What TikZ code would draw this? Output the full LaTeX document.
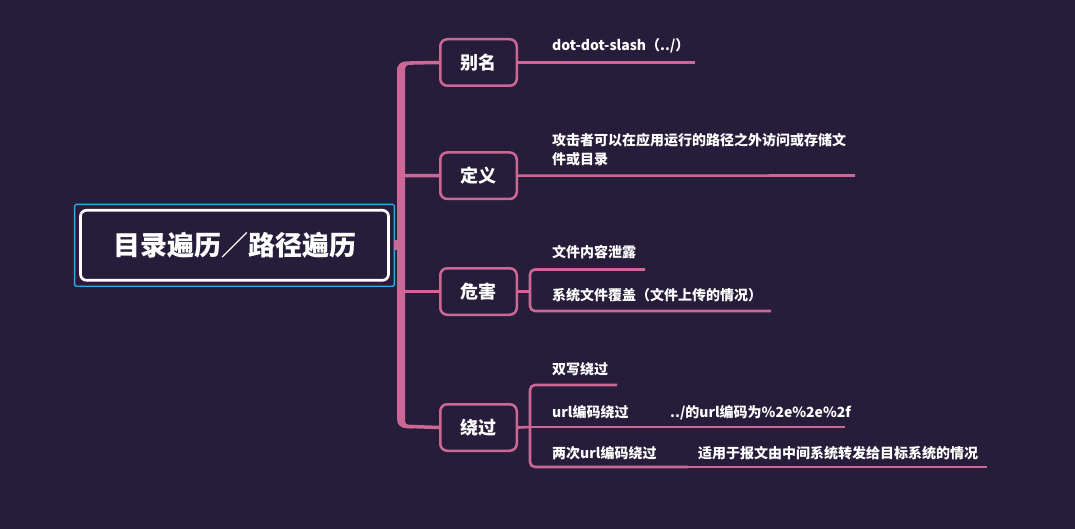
\documentclass[tikz,border=0pt]{standalone}
\usepackage{fontspec}
\setmainfont{Noto Sans CJK SC}
\definecolor{bg}{RGB}{38,29,58}
\definecolor{pk}{RGB}{205,104,150}
\definecolor{bl}{RGB}{47,169,234}
\tikzset{
  rootbox/.style={draw=white, line width=2.7pt, rounded corners=6pt, fill=bg, minimum width=308pt, minimum height=70pt, inner sep=0pt, text=white, font=\fontsize{27}{30}\selectfont\bfseries},
  topic/.style={draw=pk, line width=2.5pt, rounded corners=7pt, fill=bg, minimum width=76.5pt, minimum height=46.5pt, inner sep=0pt, text=white, font=\fontsize{18}{20}\selectfont\bfseries},
  leaf/.style={anchor=base west, inner sep=0pt, text=white, font=\fontsize{14}{18.5}\selectfont\bfseries, align=left},
  leafline/.style={draw=pk, line width=2.6pt},
  brline/.style={draw=pk, line width=3.5pt},
}
\begin{document}
\begin{tikzpicture}[x=1pt,y=-1pt]
\fill[bg] (0,0) rectangle (1075,529);
\useasboundingbox (0,0) rectangle (1075,529);

% trunk
\fill[pk] (413,61.3) -- (407,61.3) .. controls (401,61.3) and (397,64) .. (397,71) -- (397,419) .. controls (397,425) and (401,428.3) .. (407,428.3) -- (413,428.3) -- (413,424.8) -- (409,424.8) .. controls (406.5,424.8) and (405,423.5) .. (405,421) -- (405,69) .. controls (405,66.5) and (406.5,64.8) .. (409,64.8) -- (413,64.8) -- cycle;

% root
\node[rootbox] (root) at (234.5,245.3) {目录遍历／路径遍历};
\draw[bl, line width=1.4pt, rounded corners=1.5pt] ([xshift=-4.5pt,yshift=4.6pt]root.north west) rectangle ([xshift=4.5pt,yshift=-4.6pt]root.south east);
\coordinate (tr) at (401,245.3);
\draw[pk, line width=10pt] ([xshift=4pt]root.east) -- (tr);

% topics
\node[topic] (n1) at (478.5,62.5) {别名};
\node[topic] (n2) at (478.5,175.7) {定义};
\node[topic] (n3) at (478.5,291.5) {危害};
\node[topic] (n4) at (478.5,427.5) {绕过};

\coordinate (t1) at (410,63);
\coordinate (t2) at (401,175.5);
\coordinate (t3) at (401,291.5);
\coordinate (t4) at (410,426.5);
\draw[brline] (t1) -- (n1.west);
\draw[brline] (t2) -- (n2.west);
\draw[brline] (t3) -- (n3.west);
\draw[brline] (t4) -- (n4.west);

% 别名
\node[leaf] (l1) at (552,51) {dot-dot-slash（../）};
\coordinate (e1) at (695,62.5);
\draw[leafline] (n1.east) -- (e1);

% 定义
\node[leaf] (l2) at (552,164.5) {攻击者可以在应用运行的路径之外访问或存储文\\件或目录};
\coordinate (e2) at (855,175.5);
\draw[leafline] (n2.east) -- (e2);

% 危害
\coordinate (b3) at (530,291.5);
\node[leaf] (l3) at (552,258) {文件内容泄露};
\node[leaf] (l4) at (552,300.5) {系统文件覆盖（文件上传的情况）};
\coordinate (e3) at (645,269.5);
\coordinate (e4) at (771,311);
\draw[leafline] (n3.east) -- (b3);
\draw[leafline, rounded corners=5pt] (e3) -| (b3) |- (e4);

% 绕过
\coordinate (b4) at (530,427);
\node[leaf] (l5) at (552,374) {双写绕过};
\node[leaf] (l6) at (552,417) {url编码绕过};
\node[leaf] (l6b) at (670,417) {../的url编码为\%2e\%2e\%2f};
\node[leaf] (l7) at (552,458) {两次url编码绕过};
\node[leaf] (l7b) at (698,458) {适用于报文由中间系统转发给目标系统的情况};
\coordinate (e5) at (617,385);
\coordinate (e6) at (660,427);
\coordinate (e6b) at (845,427);
\coordinate (e7) at (688,467);
\coordinate (e7b) at (987,467);
\draw[leafline] (n4.east) -- (b4);
\draw[leafline, rounded corners=5pt] (e5) -| (b4) |- (e7);
\draw[leafline] (b4) -- (e6);
\draw[leafline] (e6) -- (e6b);
\draw[leafline] (e7) -- (e7b);
\end{tikzpicture}
\end{document}
